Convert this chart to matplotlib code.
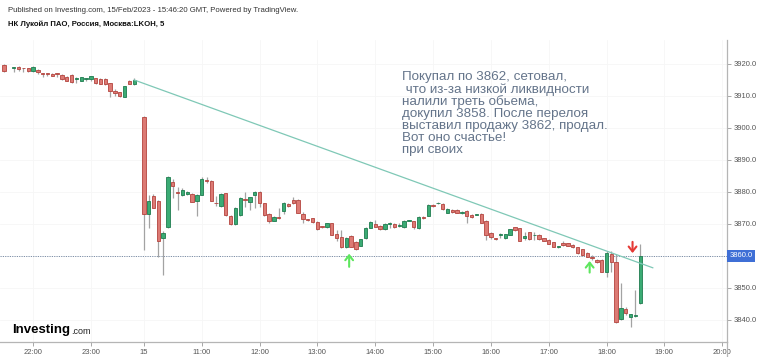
import matplotlib
matplotlib.use('Agg')
import matplotlib.pyplot as plt
import numpy as np

plt.rcParams['font.family'] = ['Liberation Sans', 'DejaVu Sans']

# ── Data ──
# bar slots (5-min bars, 22:00 of 14 Feb = slot 0)
day1_slot = np.r_[-6, -4:22]
day1_open = [3919.7, 3918.7, 3919.2, 3918.8, 3918.6, 3917.8, 3918.1, 3917.2, 3917.0,
             3916.9, 3917.1, 3916.6, 3916.0, 3916.6, 3915.2, 3914.8, 3915.3, 3915.3,
             3915.5, 3915.3, 3915.3, 3914.0, 3911.6, 3911.2, 3909.8, 3914.7, 3913.6]
day1_high = [3920.0, 3919.2, 3919.4, 3918.9, 3918.8, 3919.3, 3918.5, 3917.3, 3917.1,
             3917.1, 3917.2, 3916.8, 3916.2, 3916.8, 3916.0, 3916.0, 3915.7, 3916.4,
             3915.7, 3915.5, 3915.5, 3914.2, 3912.3, 3911.4, 3913.1, 3914.9, 3915.5]
day1_low = [3917.5, 3917.6, 3917.8, 3917.5, 3917.6, 3917.6, 3916.9, 3916.0, 3916.2,
            3916.2, 3916.0, 3915.0, 3914.6, 3914.2, 3914.0, 3914.6, 3914.8, 3914.8,
            3913.9, 3913.7, 3913.5, 3909.8, 3910.0, 3909.7, 3909.6, 3913.7, 3913.4]
day1_close = [3917.8, 3919.0, 3918.4, 3918.6, 3917.8, 3919.0, 3917.4, 3917.0, 3916.8,
              3916.4, 3917.0, 3915.2, 3914.8, 3914.3, 3915.3, 3915.8, 3915.4, 3916.2,
              3914.1, 3913.9, 3913.7, 3911.6, 3910.8, 3909.9, 3913.1, 3913.9, 3915.0]

day2_slot = np.arange(23, 127)
day2_open = [3903.4, 3873.1, 3878.7, 3877.2, 3865.5, 3869.0, 3883.0, 3880.0, 3879.0, 3879.4,
             3879.4, 3877.3, 3879.1, 3883.5, 3883.4, 3876.6, 3875.6, 3879.6, 3872.5, 3870.0,
             3872.8, 3877.9, 3877.0, 3879.1, 3880.1, 3876.5, 3873.1, 3871.0, 3872.2, 3873.9,
             3876.2, 3877.5, 3877.5, 3873.1, 3871.4, 3871.8, 3870.7, 3869.3, 3868.9, 3870.2,
             3866.9, 3866.0, 3862.7, 3866.3, 3864.5, 3863.2, 3865.6, 3868.8, 3869.9, 3869.4,
             3868.3, 3869.9, 3869.9, 3869.5, 3868.9, 3871.0, 3870.8, 3868.8, 3872.3, 3872.6,
             3876.0, 3876.4, 3876.3, 3873.5, 3874.5, 3874.4, 3873.4, 3874.1, 3872.8, 3872.9,
             3873.1, 3871.0, 3867.1, 3865.4, 3866.5, 3865.5, 3866.6, 3868.9, 3868.6, 3865.5,
             3867.4, 3866.4, 3866.6, 3865.5, 3865.0, 3864.3, 3862.9, 3864.2, 3864.0, 3863.4,
             3862.7, 3862.1, 3861.0, 3859.5, 3858.8, 3858.8, 3855.1, 3860.6, 3858.2, 3840.2,
             3843.3, 3840.8, 3841.3, 3845.2]
day2_high = [3903.6, 3879.1, 3879.5, 3877.4, 3867.9, 3885.0, 3884.1, 3881.5, 3881.1, 3880.3,
             3879.6, 3879.3, 3884.8, 3884.6, 3883.8, 3878.8, 3879.8, 3879.8, 3872.7, 3875.3,
             3878.3, 3880.1, 3878.5, 3880.4, 3880.3, 3876.7, 3873.3, 3872.5, 3874.9, 3876.8,
             3876.6, 3878.5, 3877.7, 3873.8, 3871.5, 3872.0, 3870.9, 3869.4, 3870.4, 3870.4,
             3868.1, 3868.1, 3865.8, 3866.5, 3864.7, 3865.4, 3869.0, 3871.0, 3871.3, 3869.6,
             3870.3, 3870.6, 3870.3, 3870.2, 3871.2, 3871.3, 3871.0, 3872.5, 3872.5, 3876.2,
             3876.2, 3876.8, 3876.5, 3874.9, 3874.7, 3874.6, 3873.9, 3874.3, 3873.0, 3873.2,
             3873.3, 3871.2, 3867.6, 3865.5, 3867.3, 3867.0, 3868.5, 3869.1, 3868.8, 3867.6,
             3867.6, 3867.6, 3866.8, 3865.7, 3865.2, 3864.5, 3863.0, 3864.7, 3864.2, 3863.6,
             3862.9, 3862.3, 3861.2, 3860.3, 3859.0, 3859.0, 3861.4, 3861.4, 3860.5, 3851.5,
             3844.0, 3842.0, 3849.4, 3863.8]
day2_low = [3861.8, 3868.6, 3874.9, 3859.8, 3854.1, 3868.8, 3878.0, 3874.4, 3878.7, 3879.2,
            3876.8, 3872.5, 3878.9, 3882.8, 3877.1, 3875.6, 3875.4, 3872.6, 3869.8, 3869.8,
            3872.5, 3875.2, 3874.4, 3874.9, 3875.2, 3872.6, 3870.2, 3870.8, 3871.4, 3873.0,
            3875.2, 3876.3, 3873.3, 3870.3, 3870.8, 3870.3, 3868.1, 3868.6, 3868.7, 3866.4,
            3864.6, 3862.5, 3862.5, 3862.7, 3861.8, 3863.0, 3865.4, 3868.6, 3869.0, 3868.1,
            3868.1, 3868.8, 3868.7, 3869.0, 3868.7, 3870.8, 3868.4, 3868.3, 3871.6, 3872.4,
            3875.3, 3876.2, 3874.5, 3873.3, 3873.4, 3873.3, 3873.2, 3870.2, 3871.9, 3872.8,
            3870.2, 3865.0, 3865.2, 3865.1, 3865.5, 3865.3, 3866.4, 3867.9, 3864.6, 3865.0,
            3865.1, 3865.0, 3865.1, 3864.6, 3863.6, 3862.7, 3862.4, 3863.2, 3863.0, 3862.5,
            3860.6, 3860.1, 3859.6, 3858.7, 3857.8, 3854.9, 3853.3, 3855.1, 3839.0, 3840.0,
            3841.5, 3837.9, 3841.0, 3845.0]
day2_close = [3873.2, 3877.3, 3875.1, 3864.7, 3867.1, 3884.8, 3881.9, 3879.6, 3880.6, 3880.1,
              3877.0, 3879.1, 3884.1, 3883.3, 3877.3, 3876.4, 3879.4, 3872.8, 3870.0, 3875.1,
              3878.0, 3877.5, 3878.3, 3880.1, 3876.5, 3872.8, 3871.0, 3872.3, 3871.8, 3876.5,
              3875.6, 3876.5, 3873.5, 3871.5, 3871.3, 3870.5, 3868.3, 3869.2, 3870.2, 3866.6,
              3865.6, 3862.7, 3865.6, 3862.9, 3862.1, 3865.2, 3868.8, 3870.6, 3869.1, 3868.3,
              3870.1, 3870.0, 3868.9, 3869.6, 3871.0, 3871.1, 3869.1, 3872.3, 3871.8, 3876.0,
              3875.5, 3876.5, 3874.7, 3874.7, 3873.6, 3873.5, 3873.7, 3872.5, 3872.1, 3873.0,
              3870.4, 3866.6, 3866.0, 3865.3, 3866.7, 3866.8, 3868.3, 3868.1, 3864.8, 3866.3,
              3865.3, 3866.5, 3865.3, 3864.8, 3863.8, 3862.9, 3862.9, 3863.4, 3863.2, 3862.7,
              3861.0, 3860.3, 3859.8, 3859.4, 3858.0, 3855.1, 3860.8, 3858.2, 3839.3, 3843.7,
              3842.3, 3841.8, 3841.6, 3860.0]

last_price = 3860.0
trend_x = [21, 128.6]
trend_y = [3915.0, 3856.3]
up_arrow_x = [65.6, 115.5]
up_arrow_base = [3856.6, 3854.8]
up_arrow_tip = [3860.7, 3858.4]
down_arrow_x = [124.4]
down_arrow_base = [3864.4]
down_arrow_tip = [3860.9]

tick_pos = [0, 12, 23, 35, 47, 59, 71, 83, 95, 107, 119, 131, 143]
tick_labels = ['22:00', '23:00', '15', '11:00', '12:00', '13:00', '14:00', '15:00',
               '16:00', '17:00', '18:00', '19:00', '20:00']
price_ticks = np.arange(3840, 3921, 10)

note = ("Покупал по 3862, сетовал,\n"
        " что из-за низкой ликвидности\n"
        "налили треть обьема,\n"
        "докупил 3858. После перелоя\n"
        "выставил продажу 3862, продал.\n"
        "Вот оно счастье!\n"
        "при своих")

# ── Figure ──
W, H = 758, 357
fig = plt.figure(figsize=(W / 100, H / 100), dpi=100)
ax = fig.add_axes([0, (H - 342) / H, 727 / W, (342 - 40) / H])
y0, y1 = 3833.1, 3927.5

slot = np.concatenate([day1_slot, day2_slot])
o = np.array(day1_open + day2_open)
hi = np.array(day1_high + day2_high)
lo = np.array(day1_low + day2_low)
c = np.array(day1_close + day2_close)

up = c >= o
red_fill, red_edge = '#dc7a74', '#b4443e'
grn_fill, grn_edge = '#3bab74', '#1f7c4f'

ax.vlines(slot, lo, hi, color='#a3a3a3', lw=0.9, zorder=2)
body = np.maximum(np.abs(c - o), 0.3)
bottom = np.minimum(o, c)
ax.bar(slot[up], body[up], bottom=bottom[up], width=0.7,
       color=grn_fill, edgecolor=grn_edge, lw=0.6, zorder=3)
ax.bar(slot[~up], body[~up], bottom=bottom[~up], width=0.7,
       color=red_fill, edgecolor=red_edge, lw=0.6, zorder=3)

# trend line
ax.plot(trend_x, trend_y, color='#7fc8b6', lw=0.9, zorder=4)

# last price line
ax.axhline(last_price, color='#7d8fa8', lw=0.7, ls=(0, (1.2, 1.2)), zorder=1)

# arrows
astyle = '->,head_length=0.35,head_width=0.28'
for x, b, t in zip(up_arrow_x, up_arrow_base, up_arrow_tip):
    ax.annotate('', xy=(x, t), xytext=(x, b),
                arrowprops=dict(arrowstyle=astyle, color='#5ee65e', lw=1.5,
                                shrinkA=0, shrinkB=0), zorder=5)
for x, b, t in zip(down_arrow_x, down_arrow_base, down_arrow_tip):
    ax.annotate('', xy=(x, t), xytext=(x, b),
                arrowprops=dict(arrowstyle=astyle, color='#e53935', lw=1.5,
                                shrinkA=0, shrinkB=0), zorder=5)

ax.set_xlim(-6.85, 144.0)
ax.set_ylim(y0, y1)

ax.yaxis.tick_right()
ax.set_yticks(price_ticks)
ax.set_yticklabels(['' if v == last_price else f'{v:.1f}' for v in price_ticks])
ax.set_xticks(tick_pos)
ax.set_xticklabels(tick_labels)
ax.tick_params(axis='both', labelsize=5.5, colors='#999999', labelcolor='#555555',
               length=3, width=0.6, pad=2)
for s in ['top', 'left']:
    ax.spines[s].set_visible(False)
for s in ['right', 'bottom']:
    ax.spines[s].set_color('#b5b5b5')
    ax.spines[s].set_linewidth(0.9)
ax.grid(True, color='#f6f6f6', lw=0.6)
ax.set_axisbelow(True)

# extend right axis line to bottom of figure
fig.add_artist(plt.Line2D([727 / W, 727 / W], [0, (H - 342) / H],
                          color='#b5b5b5', lw=0.9))

# last price tag
ax.text(1.003, (last_price - y0) / (y1 - y0), f'{last_price:.1f}',
        transform=ax.transAxes, ha='left', va='center', fontsize=5.5, color='white',
        bbox=dict(boxstyle='square,pad=0.35', fc='#3f6fd6', ec='none'), zorder=10,
        clip_on=False)

# note
fig.text(402 / W, 1 - 71 / H, note, ha='left', va='top', fontsize=9.6,
         color='#64748a', linespacing=1.0)

# header
fig.text(8 / W, 1 - 10 / H, 'Published on Investing.com, 15/Feb/2023 - 15:46:20 GMT, '
         'Powered by TradingView.', ha='left', va='center', fontsize=5.6, color='#333333')
fig.text(8 / W, 1 - 24 / H, 'НК Лукойл ПАО, Россия, Москва:LKOH, 5', ha='left',
         va='center', fontsize=5.6, color='#111111', fontweight='bold')

# logo
t1 = fig.text(12 / W, 1 - 330 / H, 'Investing', ha='left', va='center', fontsize=9.5,
              color='black', fontweight='bold')
fig.canvas.draw()
bb = t1.get_window_extent()
fig.text(bb.x1 / W + 0.001, 1 - 331 / H, '.com', ha='left', va='center', fontsize=6.5,
         color='#222222')

fig.savefig('out.png', dpi=100)
